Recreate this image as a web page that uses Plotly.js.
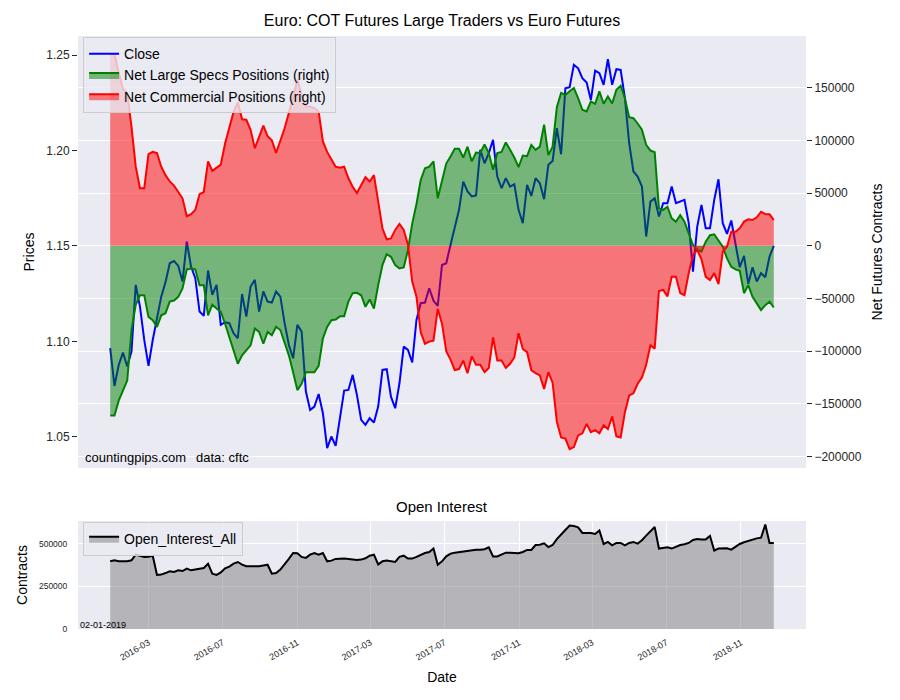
<!DOCTYPE html>
<html>
<head>
<meta charset="utf-8">
<script src="https://cdn.plot.ly/plotly-3.0.1.min.js"></script>
<style>html,body{margin:0;padding:0;background:#fff;}#chart{width:900px;height:700px;}</style>
</head>
<body>
<div id="chart"></div>
<script>
// Weekly report dates (Tuesdays)
const dates = [
"2015-12-29",
"2016-01-05","2016-01-12","2016-01-19","2016-01-26","2016-02-02","2016-02-09","2016-02-16","2016-02-23","2016-03-01","2016-03-08",
"2016-03-15","2016-03-22","2016-03-29","2016-04-05","2016-04-12","2016-04-19","2016-04-26","2016-05-03","2016-05-10","2016-05-17",
"2016-05-24","2016-05-31","2016-06-07","2016-06-14","2016-06-21","2016-06-28","2016-07-05","2016-07-12","2016-07-19","2016-07-26",
"2016-08-02","2016-08-09","2016-08-16","2016-08-23","2016-08-30","2016-09-06","2016-09-13","2016-09-20","2016-09-27","2016-10-04",
"2016-10-11","2016-10-18","2016-10-25","2016-11-01","2016-11-08","2016-11-15","2016-11-22","2016-11-29","2016-12-06","2016-12-13",
"2016-12-20","2016-12-27",
"2017-01-03","2017-01-10","2017-01-17","2017-01-24","2017-01-31","2017-02-07","2017-02-14","2017-02-21","2017-02-28","2017-03-07",
"2017-03-14","2017-03-21","2017-03-28","2017-04-04","2017-04-11","2017-04-18","2017-04-25","2017-05-02","2017-05-09","2017-05-16",
"2017-05-23","2017-05-30","2017-06-06","2017-06-13","2017-06-20","2017-06-27","2017-07-04","2017-07-11","2017-07-18","2017-07-25",
"2017-08-01","2017-08-08","2017-08-15","2017-08-22","2017-08-29","2017-09-05","2017-09-12","2017-09-19","2017-09-26","2017-10-03",
"2017-10-10","2017-10-17","2017-10-24","2017-10-31","2017-11-07","2017-11-14","2017-11-21","2017-11-28","2017-12-05","2017-12-12",
"2017-12-19","2017-12-26",
"2018-01-02","2018-01-09","2018-01-16","2018-01-23","2018-01-30","2018-02-06","2018-02-13","2018-02-20","2018-02-27","2018-03-06",
"2018-03-13","2018-03-20","2018-03-27","2018-04-03","2018-04-10","2018-04-17","2018-04-24","2018-05-01","2018-05-08","2018-05-15",
"2018-05-22","2018-05-29","2018-06-05","2018-06-12","2018-06-19","2018-06-26","2018-07-03","2018-07-10","2018-07-17","2018-07-24",
"2018-07-31","2018-08-07","2018-08-14","2018-08-21","2018-08-28","2018-09-04","2018-09-11","2018-09-18","2018-09-25","2018-10-02",
"2018-10-09","2018-10-16","2018-10-23","2018-10-30","2018-11-06","2018-11-13","2018-11-20","2018-11-27","2018-12-04","2018-12-11",
"2018-12-18","2018-12-25"
];

// Euro futures close price (left axis)
const closePrice = [
1.0964,1.0766,1.0876,1.0941,1.0868,1.0946,1.1296,1.1182,1.1007,1.0871,
1.1007,1.1130,1.1234,1.1310,1.1409,1.1421,1.1395,1.1313,1.1523,1.1392,
1.1331,1.1156,1.1133,1.1371,1.1243,1.1296,1.1086,1.1100,1.1095,1.1042,
1.1016,1.1248,1.1130,1.1287,1.1322,1.1156,1.1261,1.1208,1.1203,1.1261,
1.1234,1.1095,1.0981,1.0911,1.1086,1.1051,1.0737,1.0640,1.0658,1.0724,
1.0623,1.0440,1.0501,1.0452,1.0606,1.0742,1.0745,1.0824,1.0719,1.0588,
1.0562,1.0597,1.0574,1.0658,1.0850,1.0854,1.0710,1.0649,1.0780,1.0972,
1.0955,1.0889,1.1112,1.1200,1.1203,1.1278,1.1213,1.1186,1.1400,1.1409,
1.1505,1.1605,1.1689,1.1837,1.1785,1.1759,1.1764,1.2003,1.1933,1.1986,
1.2056,1.1863,1.1802,1.1855,1.1811,1.1823,1.1689,1.1619,1.1820,1.1762,
1.1855,1.1828,1.1745,1.1925,1.1945,1.2117,1.1980,1.2326,1.2332,1.2449,
1.2431,1.2379,1.2356,1.2265,1.2419,1.2405,1.2344,1.2478,1.2344,1.2426,
1.2422,1.2274,1.2038,1.1890,1.1863,1.1811,1.1549,1.1732,1.1750,1.1654,
1.1724,1.1724,1.1811,1.1724,1.1732,1.1741,1.1619,1.1365,1.1601,1.1715,
1.1593,1.1593,1.1741,1.1849,1.1619,1.1563,1.1633,1.1514,1.1388,1.1448,
1.1301,1.1388,1.1313,1.1357,1.1336,1.1444,1.1500
];

// Net Large Specs positions (contracts, right axis)
const netSpecs = [
-161000,-161000,-147000,-137000,-128000,-80000,-56000,-47000,-47000,-67500,
-70700,-77000,-66000,-64000,-53000,-52000,-48500,-40600,-22500,-21600,
-22500,-37400,-37400,-66000,-56000,-59600,-62800,-74000,-86500,-99000,
-112000,-104000,-99000,-94500,-78600,-81800,-93000,-81800,-85000,-77000,
-80000,-91000,-104000,-120000,-137000,-131000,-120000,-120000,-120000,-114000,
-88000,-77000,-70700,-70000,-67000,-67000,-53000,-45000,-44700,-47000,
-58000,-51000,-59600,-37400,-18400,-8000,-10500,-18400,-21600,-20600,
-4000,21000,39600,62400,73500,75000,80000,45000,62400,78000,
84600,92000,92000,83700,94000,80000,88400,88000,96000,88000,
72000,88000,89000,98000,91000,83700,74500,85600,85000,95700,
91000,94000,114800,86000,94000,131500,145000,143000,146500,149600,
140000,129000,127400,137000,134700,146500,134700,141700,135000,148000,
151800,140000,122000,121000,116000,110000,95700,90300,88800,35500,
34000,37000,26000,22800,29000,22800,11700,600,-4000,-5700,
3800,10000,10800,4700,-1000,-12000,-20000,-22500,-23800,-45000,
-37400,-48500,-54800,-61000,-56400,-53000,-58600
];

// Net Commercial positions (contracts, right axis)
const netCommercial = [
182000,182000,164000,149000,145000,113000,75000,54500,54500,87000,
89000,88000,75000,67000,61000,57000,51000,45000,28000,30000,
34000,49000,51000,80000,71000,74000,77000,97000,113000,127000,
136000,120000,119500,110000,92500,104000,114000,104000,100000,88000,
99000,111500,126000,142000,157500,143000,132000,132000,130600,127400,
99000,89000,81500,75000,74000,75000,64000,56000,50000,58000,
65000,61000,67000,42000,16500,6000,7000,15000,20600,15000,
1000,-34000,-48500,-82000,-93000,-91000,-90000,-60000,-74000,-100000,
-108000,-118000,-117000,-109000,-121000,-105000,-113000,-113000,-120000,-116000,
-87000,-109000,-109000,-116000,-112000,-106000,-83000,-98000,-101000,-118000,
-121000,-123000,-136000,-120000,-130000,-167000,-182000,-183000,-193000,-191000,
-180000,-178000,-169000,-177000,-175000,-178000,-170500,-174000,-162000,-181000,
-182000,-158000,-142000,-140000,-131000,-125000,-113000,-94500,-97600,-43000,
-42000,-48000,-29500,-29500,-45000,-47000,-26000,-9000,-4000,-13000,
-29500,-32600,-26000,-36500,-5700,-1000,13300,13300,16500,23000,
25000,24400,27000,32300,30000,29800,24400
];

// Open interest (contracts)
const openInterest = [
398000,404000,398000,398000,398000,404000,437000,431000,424000,425000,
431000,318000,320000,329000,339000,335000,345000,341000,355000,345000,
349000,351000,359000,384000,325000,318000,333000,357000,367000,384000,
394000,378000,369000,369000,369000,369000,374000,378000,325000,329000,
349000,378000,412000,447000,445000,424000,418000,437000,447000,437000,
447000,398000,402000,412000,414000,414000,412000,408000,406000,408000,
416000,431000,437000,380000,398000,402000,398000,394000,424000,431000,
414000,414000,424000,437000,447000,453000,473000,378000,398000,427000,
443000,449000,453000,457000,462000,465000,466000,466000,469000,480000,
427000,427000,437000,449000,449000,447000,445000,453000,465000,465000,
494000,496000,504000,482000,494000,529000,553000,582000,608000,606000,
598000,565000,565000,565000,559000,580000,500000,512000,492000,506000,
506000,492000,506000,512000,502000,522000,549000,576000,600000,473000,
476000,480000,473000,486000,494000,498000,506000,524000,529000,527000,
527000,547000,461000,473000,475000,475000,467000,486000,500000,510000,
518000,529000,533000,537000,614000,506000,506000
];

const priceTicks = [1.05, 1.10, 1.15, 1.20, 1.25];
const netTicks = [-200000, -150000, -100000, -50000, 0, 50000, 100000, 150000];
const oiTicks = [0, 250000, 500000];
const xRange = ["2015-11-06", "2019-02-16"];

const FONT = "Liberation Sans, Arial, Helvetica, sans-serif";
const TXT = "#262626";

const traces = [
  {x: dates, y: closePrice, name: "Close", type: "scatter", mode: "lines",
   xaxis: "x", yaxis: "y", line: {color: "#0000ff", width: 2}, legend: "legend"},
  {x: dates, y: netSpecs, name: "Net Large Specs Positions (right)", type: "scatter", mode: "lines",
   xaxis: "x", yaxis: "y2", fill: "tozeroy", fillcolor: "rgba(0,128,0,0.5)",
   line: {color: "#008000", width: 2}, legend: "legend"},
  {x: dates, y: netCommercial, name: "Net Commercial Positions (right)", type: "scatter", mode: "lines",
   xaxis: "x", yaxis: "y2", fill: "tozeroy", fillcolor: "rgba(255,0,0,0.5)",
   line: {color: "#ff0000", width: 2}, legend: "legend"},
  {x: dates, y: openInterest, name: "Open_Interest_All", type: "scatter", mode: "lines",
   xaxis: "x2", yaxis: "y3", fill: "tozeroy", fillcolor: "rgba(128,128,128,0.5)",
   line: {color: "#000000", width: 2}, legend: "legend2"}
];

const layout = {
  width: 900, height: 700,
  paper_bgcolor: "#ffffff", plot_bgcolor: "#EAEAF2",
  margin: {l: 78, r: 94, t: 36, b: 71, pad: 0},
  font: {family: FONT, color: TXT, size: 12},
  title: {text: "Euro: COT Futures Large Traders vs Euro Futures",
          x: 0.5, xref: "paper", xanchor: "center", y: 1 - 20/700, yref: "container", yanchor: "middle",
          font: {size: 16, color: "#000000", family: FONT}},
  showlegend: true,
  xaxis: {domain: [0, 1], anchor: "y", type: "date", range: xRange,
          showticklabels: false, showgrid: false, zeroline: false, ticks: "", showline: false},
  yaxis: {domain: [0.2715, 1], anchor: "x", range: [1.0336, 1.26],
          tickvals: priceTicks, tickformat: ".2f", showgrid: false, zeroline: false,
          ticks: "outside", ticklen: 5, tickwidth: 1, tickcolor: TXT,
          tickfont: {size: 12, color: TXT},
          title: {text: "Prices", font: {size: 14, color: "#000"}, standoff: 8}},
  yaxis2: {overlaying: "y", side: "right", anchor: "x", range: [-210900, 199000],
           tickvals: netTicks, tickformat: "d", showgrid: true, gridcolor: "#ffffff", gridwidth: 1,
           zeroline: false,
           ticks: "outside", ticklen: 5, tickwidth: 1, tickcolor: TXT,
           tickfont: {size: 12, color: TXT},
           title: {text: "Net Futures Contracts", font: {size: 14, color: "#000"}, standoff: 11}},
  xaxis2: {domain: [0, 1], anchor: "y3", type: "date", range: xRange,
           tick0: "2016-03-01", dtick: "M4", tickformat: "%Y-%m", tickangle: -30,
           tickfont: {size: 9, color: TXT},
           showgrid: true, gridcolor: "#ffffff", gridwidth: 1, zeroline: false,
           ticks: "outside", ticklen: 4, tickcolor: "rgba(0,0,0,0)",
           title: {text: "Date", font: {size: 14, color: "#000"}, standoff: 10}},
  yaxis3: {domain: [0, 0.1821], anchor: "x2", range: [0, 635000],
           tickvals: oiTicks, tickformat: "d", showgrid: true, gridcolor: "#ffffff", gridwidth: 1,
           zeroline: false, ticks: "outside", ticklen: 8, tickcolor: "rgba(0,0,0,0)",
           tickfont: {size: 8.5, color: TXT},
           title: {text: "Contracts", font: {size: 14, color: "#000"}, standoff: 8}},
  legend: {x: 0.007, y: 0.998, xanchor: "left", yanchor: "top",
           bgcolor: "rgba(234,234,242,0.8)", bordercolor: "#cccccc", borderwidth: 1,
           font: {size: 14, color: "#000", family: FONT}, traceorder: "normal"},
  legend2: {x: 0.007, y: 0.18, xanchor: "left", yanchor: "top",
            bgcolor: "rgba(234,234,242,0.8)", bordercolor: "#cccccc", borderwidth: 1,
            font: {size: 14, color: "#000", family: FONT}},
  annotations: [
    {text: "Open Interest", xref: "paper", yref: "paper", x: 0.5, y: (629-506)/593,
     xanchor: "center", yanchor: "middle", showarrow: false, font: {size: 15, color: "#000"}},
    {text: "countingpips.com", xref: "paper", yref: "paper", x: (83-78)/728, y: (629-458)/593,
     xanchor: "left", yanchor: "middle", showarrow: false, font: {size: 13, color: "#000"}},
    {text: "data: cftc", xref: "paper", yref: "paper", x: (194-78)/728, y: (629-458)/593,
     xanchor: "left", yanchor: "middle", showarrow: false, font: {size: 13, color: "#000"}},
    {text: "02-01-2019", xref: "paper", yref: "paper", x: (78-78)/728, y: (629-625)/593,
     xanchor: "left", yanchor: "middle", showarrow: false, font: {size: 9, color: "#000"}}
  ]
};

Plotly.newPlot("chart", traces, layout, {displayModeBar: false, responsive: false});
</script>
</body>
</html>
